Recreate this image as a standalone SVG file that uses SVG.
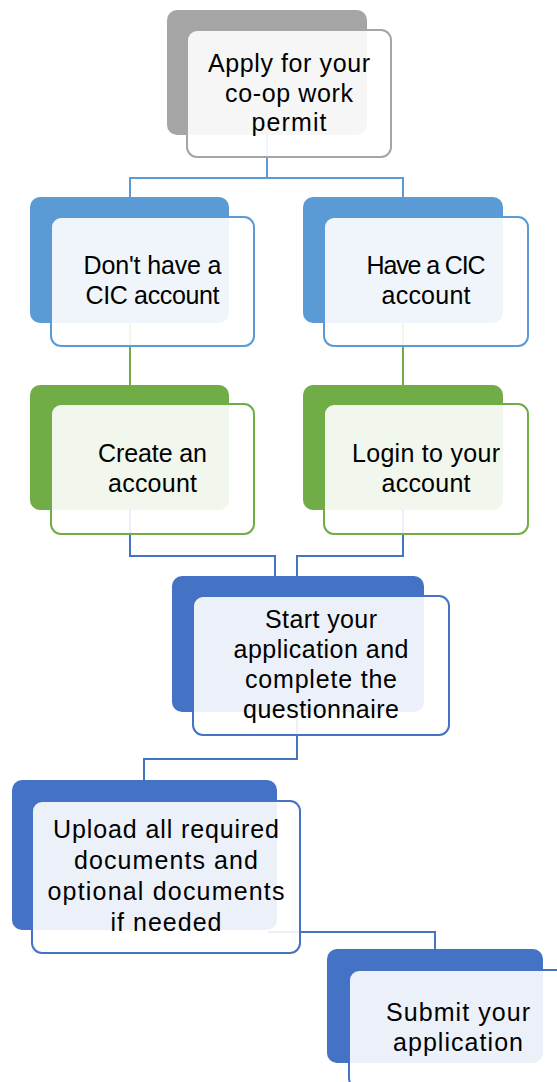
<svg xmlns="http://www.w3.org/2000/svg" width="557" height="1082" viewBox="0 0 557 1082">
<style>
.back{stroke:none}
.front{fill:#ffffff;fill-opacity:0.9;stroke-width:2}
.t{font-family:"Liberation Sans",Arial,sans-serif;font-size:25px;fill:#000;text-anchor:middle}
.c{fill:none;stroke-width:2}
</style>
<rect width="557" height="1082" fill="#ffffff"/>
<g id="connectors">
  <path class="c" stroke="#5b9bd5" d="M267,135 V178 M130,198 V178 H403 V198"/>
  <path class="c" stroke="#70ad47" d="M130,323 V386 M403,323 V386"/>
  <path class="c" stroke="#4472c4" d="M130,510 V556 H275 V577 M403,510 V556 H297 V577"/>
  <path class="c" stroke="#4472c4" d="M297,712 V759 H144 V781"/>
  <path class="c" stroke="#4472c4" d="M268,932 H435 V950"/>
</g>
<g id="n1">
  <rect class="back" x="167" y="10" width="200" height="125" rx="10" fill="#a5a5a5"/>
  <rect class="front" x="187" y="30" width="204" height="127" rx="10" stroke="#a5a5a5"/>
  <text class="t" x="289" y="72" textLength="162">Apply for your</text>
  <text class="t" x="289" y="102" textLength="128">co-op work</text>
  <text class="t" x="289" y="131" textLength="75">permit</text>
</g>
<g id="n2">
  <rect class="back" x="30" y="197" width="199" height="126" rx="10" fill="#5b9bd5"/>
  <rect class="front" x="51" y="217" width="203" height="129" rx="10" stroke="#5b9bd5"/>
  <text class="t" x="152.5" y="274" textLength="138">Don't have a</text>
  <text class="t" x="152.5" y="304" textLength="134">CIC account</text>
</g>
<g id="n3">
  <rect class="back" x="303" y="197" width="200" height="126" rx="10" fill="#5b9bd5"/>
  <rect class="front" x="324" y="217" width="204" height="129" rx="10" stroke="#5b9bd5"/>
  <text class="t" x="426" y="274" textLength="119">Have a CIC</text>
  <text class="t" x="426" y="304" textLength="89">account</text>
</g>
<g id="n4">
  <rect class="back" x="30" y="385" width="199" height="125" rx="10" fill="#70ad47"/>
  <rect class="front" x="51" y="404" width="203" height="130" rx="10" stroke="#70ad47"/>
  <text class="t" x="152.5" y="462" textLength="109">Create an</text>
  <text class="t" x="152.5" y="492" textLength="89">account</text>
</g>
<g id="n5">
  <rect class="back" x="303" y="385" width="200" height="125" rx="10" fill="#70ad47"/>
  <rect class="front" x="324" y="404" width="204" height="130" rx="10" stroke="#70ad47"/>
  <text class="t" x="426" y="462" textLength="148">Login to your</text>
  <text class="t" x="426" y="492" textLength="89">account</text>
</g>
<g id="n6">
  <rect class="back" x="172" y="576" width="252" height="136" rx="10" fill="#4472c4"/>
  <rect class="front" x="193" y="596" width="256" height="139" rx="10" stroke="#4472c4"/>
  <text class="t" x="321" y="628" textLength="112">Start your</text>
  <text class="t" x="321" y="658" textLength="175">application and</text>
  <text class="t" x="321" y="688" textLength="152">complete the</text>
  <text class="t" x="321" y="718" textLength="156">questionnaire</text>
</g>
<g id="n7">
  <rect class="back" x="12" y="780" width="265" height="150" rx="10" fill="#4472c4"/>
  <rect class="front" x="32" y="801" width="268" height="152" rx="10" stroke="#4472c4"/>
  <text class="t" x="166" y="838" textLength="226">Upload all required</text>
  <text class="t" x="166" y="869" textLength="184">documents and</text>
  <text class="t" x="166" y="900" textLength="237">optional documents</text>
  <text class="t" x="166" y="931" textLength="111">if needed</text>
</g>
<g id="n8">
  <rect class="back" x="327" y="949" width="216" height="114" rx="10" fill="#4472c4"/>
  <rect class="front" x="349" y="970" width="218" height="118" rx="10" stroke="#4472c4"/>
  <text class="t" x="458" y="1021" textLength="144">Submit your</text>
  <text class="t" x="458" y="1051" textLength="130">application</text>
</g>
</svg>
